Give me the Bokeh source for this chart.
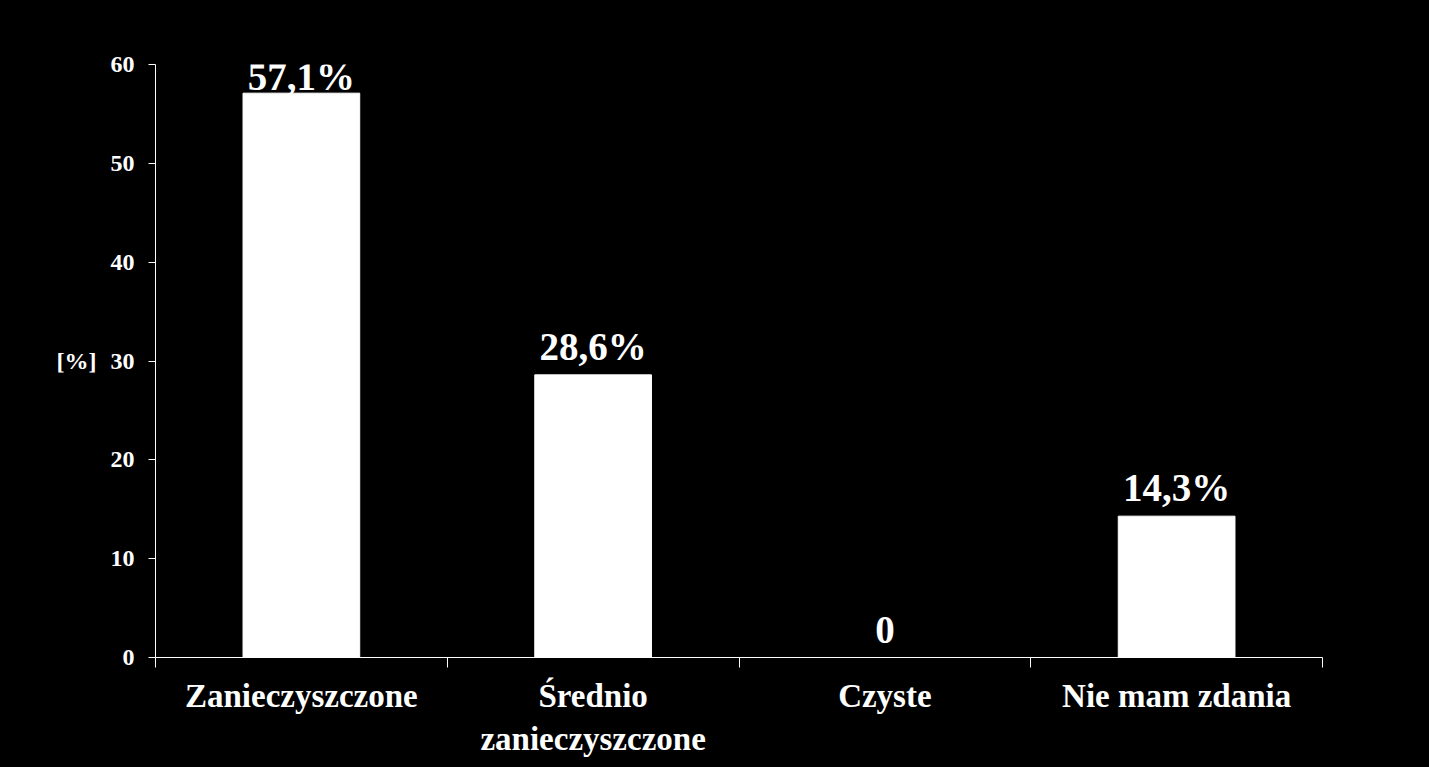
from bokeh.plotting import figure
from bokeh.models import Range1d, FixedTicker, ColumnDataSource, LabelSet
from bokeh.embed import file_html
from bokeh.resources import INLINE

categories = ["Zanieczyszczone", "Średnio\nzanieczyszczone", "Czyste", "Nie mam zdania"]
values = [57.1, 28.6, 0, 14.3]
value_labels = ["57,1%", "28,6%", "0", "14,3%"]
y_ticks = [0, 10, 20, 30, 40, 50, 60]

FONT = "Liberation Serif"
W, H = 1429, 767
L, T, B, R = 155, 64, 110, 107
frame_h = H - T - B

x_pos = [i + 0.5 for i in range(len(categories))]

p = figure(width=W, height=H, output_backend="svg", toolbar_location=None,
           x_range=Range1d(0, len(categories)), y_range=Range1d(0, 60),
           min_border_left=L, min_border_top=T, min_border_bottom=B, min_border_right=R)
p.background_fill_color = "black"
p.border_fill_color = "black"
p.outline_line_color = None
p.grid.visible = False

p.vbar(x=x_pos, top=values, width=0.4, color="white", line_color="white")

# value labels: 15px above bar, clamped so text stays inside the frame
ppu = frame_h / 60.0
label_y = []
for v in values:
    px = min(v * ppu + 15, frame_h - 25)
    label_y.append(px / ppu)
src = ColumnDataSource(dict(x=x_pos, y=label_y, t=value_labels))
p.add_layout(LabelSet(x="x", y="y", text="t", source=src, text_align="center",
                      text_baseline="alphabetic", text_color="white",
                      text_font=FONT, text_font_style="bold", text_font_size="39px"))

xa = p.xaxis[0]
xa.ticker = FixedTicker(ticks=x_pos, minor_ticks=list(range(len(categories) + 1)))
xa.major_label_overrides = {x: c for x, c in zip(x_pos, categories)}
xa.major_tick_out = 0
xa.major_tick_in = 0
xa.minor_tick_out = 10
xa.minor_tick_in = 0
xa.minor_tick_line_color = "white"
xa.axis_line_color = "white"
xa.major_label_text_color = "white"
xa.major_label_text_font = FONT
xa.major_label_text_font_style = "bold"
xa.major_label_text_font_size = "33px"
xa.major_label_standoff = 10

ya = p.yaxis[0]
ya.ticker = FixedTicker(ticks=y_ticks, minor_ticks=[])
ya.major_tick_out = 7
ya.major_tick_in = 0
ya.major_tick_line_color = "white"
ya.axis_line_color = "white"
ya.major_label_text_color = "white"
ya.major_label_text_font = FONT
ya.major_label_text_font_style = "bold"
ya.major_label_text_font_size = "24px"
ya.major_label_standoff = 14
ya.axis_label = "[%]"
ya.axis_label_text_color = "white"
ya.axis_label_text_font = FONT
ya.axis_label_text_font_style = "bold"
ya.axis_label_text_font_size = "24px"
ya.axis_label_standoff = 11
try:
    ya.axis_label_orientation = "horizontal"
except Exception:
    pass

html = file_html(p, INLINE)
html = html.replace("</head>", "<style>html,body{margin:0;padding:0;background:#000;overflow:hidden;}</style></head>", 1)
open("out.html", "w").write(html)
